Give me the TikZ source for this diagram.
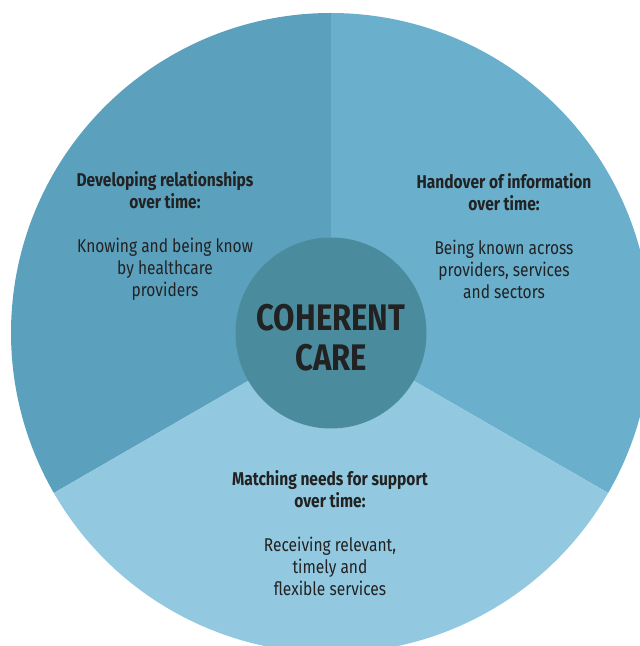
\documentclass[tikz,border=0pt]{standalone}
\usepackage{fontspec}
\setmainfont{Fira Sans}[FakeStretch=0.84]
\definecolor{relblue}{RGB}{91,161,189}
\definecolor{infoblue}{RGB}{106,175,204}
\definecolor{needblue}{RGB}{147,201,224}
\definecolor{hubteal}{RGB}{74,140,158}
\definecolor{inkgrey}{RGB}{34,34,34}
\tikzset{
  sectortext/.style={align=center,text=inkgrey,
    font=\fontsize{18.5}{22}\selectfont},
  hubtext/.style={align=center,text=inkgrey,
    font=\fontsize{37}{40}\selectfont\bfseries}
}
\begin{document}
\begin{tikzpicture}[x=1pt,y=1pt]
  \useasboundingbox
    (0,0)
    rectangle
    (640,646);
  \coordinate (mid) at (331,313);
  \begin{scope}
    \clip
      (0,0)
      rectangle
      (640,646);
    \fill[relblue]
      (mid)
      --
      ++(90:320)
      arc[start angle=90,end angle=210,radius=320]
      --
      cycle;
    \fill[infoblue]
      (mid)
      --
      ++(-30:320)
      arc[start angle=-30,end angle=90,radius=320]
      --
      cycle;
    \fill[needblue]
      (mid)
      --
      ++(210:320)
      arc[start angle=210,end angle=330,radius=320]
      --
      cycle;
  \end{scope}
  \node[circle,fill=hubteal,inner sep=0pt,minimum size=191]
    (hub) at (mid) {};
  \node[hubtext]
    (hublabel) at (331,308)
    {COHERENT\\CARE};
  \node[sectortext]
    (relations) at (165,410)
    {\textbf{Developing relationships}\\
     \textbf{over time:}\\[22pt]
     Knowing and being know\\
     by healthcare\\
     providers};
  \node[sectortext]
    (handover) at (504,410)
    {\textbf{Handover of information}\\
     \textbf{over time:}\\[22pt]
     Being known across\\
     providers, services\\
     and sectors};
  \node[sectortext]
    (needs) at (330,113)
    {\textbf{Matching needs for support}\\
     \textbf{over time:}\\[22pt]
     Receiving relevant,\\
     timely and\\
     flexible services};
\end{tikzpicture}
\end{document}
